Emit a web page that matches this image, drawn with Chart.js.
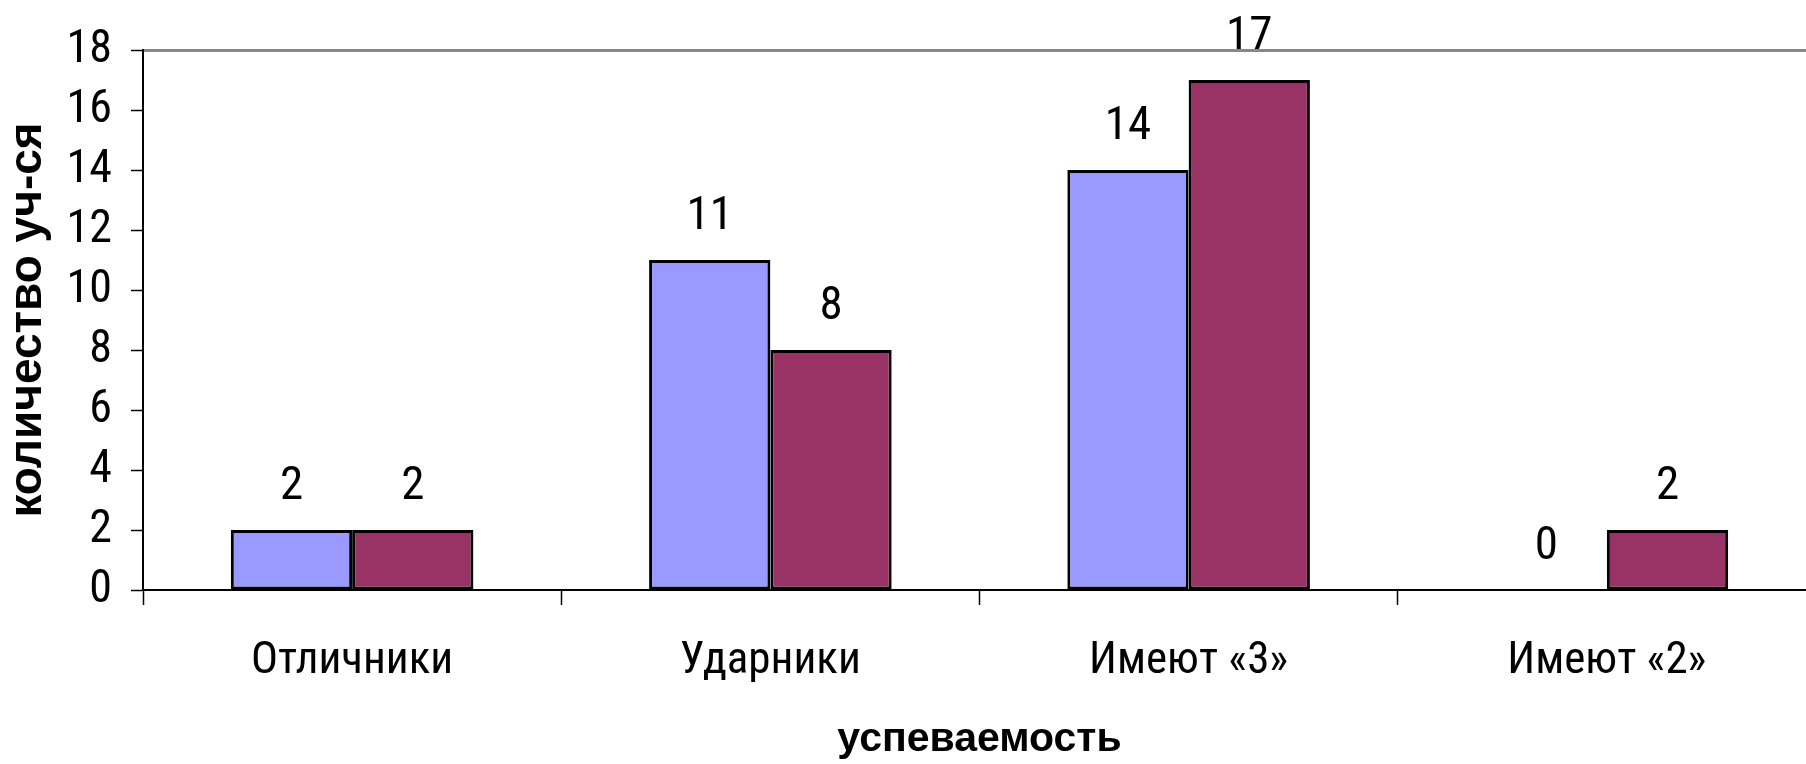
<!DOCTYPE html>
<html>
<head>
<meta charset="utf-8">
<script src="https://cdn.jsdelivr.net/npm/chart.js@4"></script>
<style>
  html, body { margin: 0; padding: 0; background: #fff; overflow: hidden; }
  #wrap { width: 1820px; height: 764px; }
</style>
</head>
<body>
<div id="wrap"><canvas id="myChart" width="1820" height="764"></canvas></div>
<script>
const categories = ["Отличники", "Ударники", "Имеют «3»", "Имеют «2»"];
const seriesA = [2, 11, 14, 0];
const seriesB = [2, 8, 17, 2];
const yTicks = [0, 2, 4, 6, 8, 10, 12, 14, 16, 18];

const narrow = "'Roboto Condensed', 'Liberation Sans Narrow', sans-serif";
const boldFont = "'Liberation Sans', Arial, sans-serif";

// value labels above each bar
const valueLabels = {
  id: "valueLabels",
  afterDatasetsDraw(chart) {
    const ctx = chart.ctx;
    ctx.save();
    ctx.font = "47px " + narrow;
    ctx.fillStyle = "#000";
    ctx.textAlign = "center";
    ctx.textBaseline = "alphabetic";
    chart.data.datasets.forEach((ds, i) => {
      chart.getDatasetMeta(i).data.forEach((bar, j) => {
        ctx.fillText(String(ds.data[j]), bar.x, bar.y - 31);
      });
    });
    ctx.restore();
  },
};

const data = {
  labels: categories,
  datasets: [
    {
      label: "A",
      data: seriesA,
      backgroundColor: "#9999FF",
      borderColor: "#000",
      borderWidth: 3,
      borderSkipped: false,
    },
    {
      label: "B",
      data: seriesB,
      backgroundColor: "#993366",
      borderColor: "#000",
      borderWidth: 3,
      borderSkipped: false,
    },
  ],
};

const config = {
  type: "bar",
  data: data,
  options: {
    responsive: false,
    animation: false,
    events: [],
    datasets: {
      bar: { barPercentage: 1, categoryPercentage: 0.58 },
    },
    layout: {
      padding: { top: 50, right: 4, left: 0, bottom: 0 },
    },
    plugins: {
      legend: { display: false },
      tooltip: { enabled: false },
    },
    scales: {
      x: {
        afterFit: (axis) => {
          axis.height = 174;
        },
        grid: {
          display: true,
          drawOnChartArea: false,
          drawTicks: true,
          tickLength: 15,
          tickWidth: 1.5,
          tickColor: "#000",
          offset: true,
        },
        border: { color: "#000", width: 2 },
        ticks: {
          color: "#000",
          padding: 30,
          font: { family: narrow, size: 45 },
        },
        title: {
          display: true,
          text: "успеваемость",
          color: "#000",
          padding: { top: 11, bottom: 0 },
          font: { family: boldFont, size: 41, weight: "bold" },
        },
      },
      xTop: {
        type: "category",
        position: "top",
        grid: { display: false, drawTicks: false },
        border: { color: "#888", width: 3 },
        ticks: { display: false },
      },
      y: {
        min: 0,
        max: 18,
        afterBuildTicks: (axis) => {
          axis.ticks = yTicks.map((v) => ({ value: v }));
        },
        afterFit: (axis) => {
          axis.width = 143;
        },
        grid: {
          display: true,
          drawOnChartArea: false,
          drawTicks: true,
          tickLength: 12,
          tickWidth: 1.5,
          tickColor: "#000",
        },
        border: { color: "#000", width: 2 },
        ticks: {
          color: "#000",
          padding: 19,
          autoSkip: false,
          font: { family: narrow, size: 46 },
        },
        title: {
          display: true,
          text: "количество уч-ся",
          color: "#000",
          padding: { top: 1, bottom: 0 },
          font: { family: boldFont, size: 46, weight: "bold" },
        },
      },
    },
  },
  plugins: [valueLabels],
};

const myChart = new Chart(document.getElementById("myChart"), config);
</script>
</body>
</html>
